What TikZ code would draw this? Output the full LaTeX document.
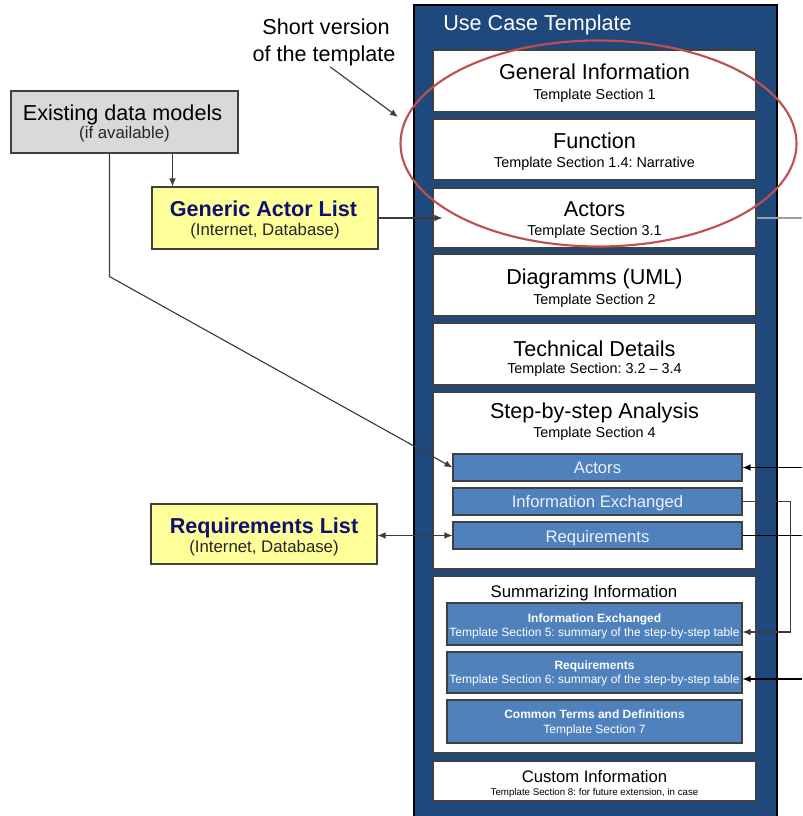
\documentclass[tikz,border=0pt]{standalone}
\usepackage{fontspec}
\setmainfont{Liberation Sans}
\usetikzlibrary{fit,arrows.meta,shapes.geometric}

\definecolor{panelblue}{RGB}{31,73,125}
\definecolor{innerblue}{RGB}{79,129,189}
\definecolor{noteyellow}{RGB}{255,255,153}
\definecolor{modelgray}{RGB}{217,217,217}
\definecolor{navytext}{RGB}{16,16,112}
\definecolor{ringred}{RGB}{192,80,77}
\definecolor{wire}{RGB}{60,60,60}
\definecolor{tiletext}{RGB}{236,241,248}

\newcommand\fsz[1]{\fontsize{#1}{#1}\selectfont}
\frenchspacing

\begin{document}
\begin{tikzpicture}[x=0.75pt,y=-0.75pt,
  frame/.style={draw=black!75, line width=0.8pt, inner sep=0pt},
  sheet/.style={frame, fill=white},
  tile/.style={frame, fill=innerblue},
  note/.style={frame, fill=noteyellow},
  txt/.style={anchor=base, inner sep=0pt},
  big/.style={txt, font=\fsz{16.2}},
  sub/.style={txt, font=\fsz{10.8}},
  paren/.style={txt, font=\fsz{12.6}, text=black!85},
  navyhead/.style={txt, font=\fsz{16.2}\bfseries, text=navytext},
  tiletxt/.style={txt, font=\fsz{12.5}, text=tiletext},
  tinyb/.style={txt, font=\fsz{9}\bfseries, text=white},
  tiny/.style={txt, font=\fsz{9}, text=white},
  tip/.style={Latex[length=6pt,width=5pt]},
  arr/.style={draw=wire, line width=0.85pt, -{Latex[length=6pt,width=5pt]}},
  plain/.style={draw=wire, line width=0.85pt},
]
\useasboundingbox (0,0) rectangle (802,816);

% template panel
\node[fit={(414,5)(777,818)}, inner sep=0pt, fill=panelblue, draw=black, line width=0.8pt] (panel) {};
\node[txt, anchor=base west, font=\fsz{16.2}, text=white] (panelT) at (443,31) {Use Case Template};

% section sheets
\node[sheet, fit={(433,50)(756,112)}] (gen) {};
\node[big] (genT) at (594.5,80) {General Information};
\node[sub] (genS) at (594.5,100) {Template Section 1};

\node[sheet, fit={(433,119)(756,180)}] (fun) {};
\node[big] (funT) at (594.5,149) {Function};
\node[sub] (funS) at (594.5,168) {Template Section 1.4: Narrative};

\node[sheet, fit={(433,188)(756,248)}] (act) {};
\node[big] (actT) at (594.5,217) {Actors};
\node[sub] (actS) at (594.5,236) {Template Section 3.1};

\node[sheet, fit={(433,254)(756,316)}] (uml) {};
\node[big] (umlT) at (594.5,285) {Diagramms (UML)};
\node[sub] (umlS) at (594.5,304) {Template Section 2};

\node[sheet, fit={(433,323)(756,385)}] (tech) {};
\node[big] (techT) at (594.5,356) {Technical Details};
\node[sub] (techS) at (594.5,373) {Template Section: 3.2 – 3.4};

\node[sheet, fit={(433,392)(756,569)}] (step) {};
\node[big] (stepT) at (594.5,418) {Step-by-step Analysis};
\node[sub] (stepS) at (594.5,437) {Template Section 4};

\node[tile, fit={(453,454)(742,481)}] (sa) {};
\node[tiletxt] (saT) at (597.5,473) {Actors};
\node[tile, fit={(453,488)(742,515)}] (sie) {};
\node[tiletxt] (sieT) at (597.5,507) {Information Exchanged};
\node[tile, fit={(453,522)(742,549)}] (sreq) {};
\node[tiletxt] (sreqT) at (597.5,542) {Requirements};

\node[sheet, fit={(433,576)(756,753)}] (summ) {};
\node[txt, font=\fsz{12.6}] (summT) at (584,597) {Summarizing Information};

\node[tile, fit={(447,603)(742,645)}] (tie) {};
\node[tinyb] (tieT) at (594.5,622) {Information Exchanged};
\node[tiny] (tieS) at (594.5,636) {Template Section 5: summary of the step-by-step table};

\node[tile, fit={(447,652)(742,693)}] (treq) {};
\node[tinyb] (treqT) at (594.5,669) {Requirements};
\node[tiny] (treqS) at (594.5,683) {Template Section 6: summary of the step-by-step table};

\node[tile, fit={(447,700)(742,743)}] (tcom) {};
\node[tinyb] (tcomT) at (594.5,718) {Common Terms and Definitions};
\node[tiny] (tcomS) at (594.5,733) {Template Section 7};

\node[sheet, fit={(433,761)(756,801)}] (cust) {};
\node[txt, font=\fsz{12.5}] (custT) at (594.5,782) {Custom Information};
\node[txt, font=\fsz{7.3}] (custS) at (594.5,795) {Template Section 8: for future extension, in case};

% outside sources
\node[frame, fill=modelgray, fit={(11,91)(238,153)}] (exist) {};
\node[big] (existT) at (122.5,121) {Existing data models};
\node[paren] (existS) at (124.5,139) {(if available)};

\node[note, fit={(152,187)(378,249)}] (generic) {};
\node[navyhead] (genericT) at (263.5,217) {Generic Actor List};
\node[paren] (genericS) at (265,235.5) {(Internet, Database)};

\node[note, fit={(151,504)(377,564)}] (reqs) {};
\node[navyhead] (reqsT) at (264,533) {Requirements List};
\node[paren] (reqsS) at (264,552.5) {(Internet, Database)};

% short version marker
\node[ellipse, draw=ringred, line width=1.6pt, minimum width=297pt, minimum height=154.5pt, inner sep=0pt] (ring) at (598.5,143.5) {};
\node[big] (shortA) at (326,35) {Short version};
\node[big] (shortB) at (324,62) {of the template};
\coordinate (ringTip) at (398,117);
\draw[arr] ([xshift=4.5pt]shortB.south) -- (ringTip);

% free ends on the right edge
\coordinate (edgeA) at (802,218);
\coordinate (edgeB) at (802,467.5);
\coordinate (edgeC) at (802,535.5);
\coordinate (edgeD) at (802,679);

% connectors
\draw[arr] ([xshift=121.5pt]exist.south west) coordinate (e1) -- (e1 |- generic.north);
\draw[arr] ([xshift=74.25pt]exist.south west) -- ++(0,123) -- (sa.west);
\draw[arr] (generic.east) -- ([xshift=7.5pt]act.west);
\draw[draw=gray!75, line width=0.85pt] (act.east) -- (edgeA);
\draw[arr, draw=black] (edgeB) -- (sa.east);
\draw[arr] (sie.east) -- ++(48,0) |- ([yshift=-6pt]tie.east);
\draw[plain, draw=black] (sreq.east) -- (edgeC);
\draw[draw=wire, line width=0.85pt, {Latex[length=6pt,width=5pt]}-{Latex[length=6pt,width=5pt]}] (sreq.west -| reqs.east) -- (sreq.west);
\draw[arr, draw=black] (edgeD) -- (edgeD -| treq.east);
\end{tikzpicture}
\end{document}
